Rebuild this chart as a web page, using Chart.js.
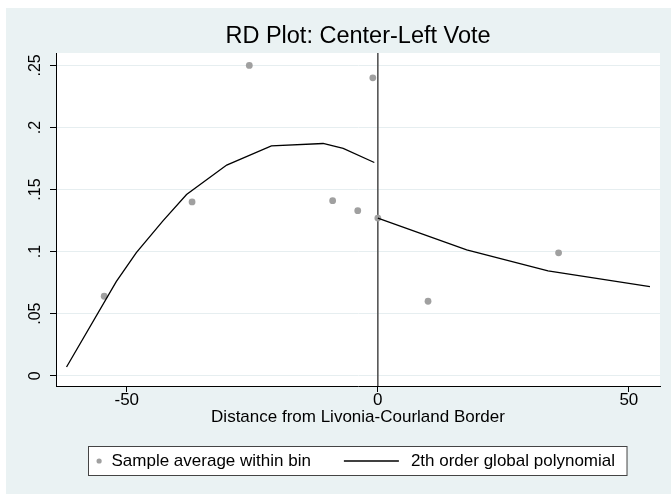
<!DOCTYPE html>
<html>
<head>
<meta charset="utf-8">
<script src="https://cdn.jsdelivr.net/npm/chart.js@4.4.1/dist/chart.umd.min.js"></script>
<style>
  html, body { margin: 0; padding: 0; background: #fff; }
  #wrap { width: 671px; height: 494px; }
</style>
</head>
<body>
<div id="wrap"><canvas id="rdChart" width="671" height="494"></canvas></div>
<script>
// ==========================================
// 1. Data
// ==========================================
const binX = [-54.5, -37, -25.6, -9, -4, -1, 0, 10, 36];
const binY = [0.064, 0.14, 0.25, 0.141, 0.133, 0.24, 0.127, 0.06, 0.099];

// polynomial fit, one piece on each side of the border
const polyLeftX = [-62, -52.1, -48.1, -42.8, -38.1, -30.1, -21.2, -10.9, -6.9, -0.7];
const polyLeftY = [0.007, 0.0758, 0.0992, 0.1248, 0.146, 0.1697, 0.1852, 0.1871, 0.1831, 0.1718];
const polyRightX = [0, 17.7, 33.9, 54.2];
const polyRightY = [0.127, 0.1014, 0.0844, 0.0718];

const cutoff = 0;
const xTicks = [-50, 0, 50];
const xTickLabels = ['-50', '0', '50'];
const yTicks = [0, 0.05, 0.1, 0.15, 0.2, 0.25];
const yTickLabels = ['0', '.05', '.1', '.15', '.2', '.25'];
const xRange = [-64.1, 56.2];
const yRange = [-0.0083, 0.26];

const FONT = '"Liberation Sans", Arial, Helvetica, sans-serif';
const BG = 'rgb(234,242,243)';

const toPoints = (xs, ys) => xs.map((x, i) => ({ x: x, y: ys[i] }));

// ==========================================
// 2. Plugins (background + Stata style legend box)
// ==========================================
const stataBackground = {
    id: 'stataBackground',
    beforeDraw(chart) {
        const { ctx, width, height, chartArea } = chart;
        ctx.save();
        ctx.fillStyle = '#fff';
        ctx.fillRect(0, 0, width, height);
        ctx.fillStyle = BG;
        ctx.fillRect(6, 8, width - 6, height - 8);
        ctx.fillStyle = '#fff';
        ctx.fillRect(chartArea.left, chartArea.top, chartArea.right - chartArea.left, chartArea.bottom - chartArea.top);
        ctx.restore();
    }
};

const legendBox = {
    id: 'legendBox',
    afterDraw(chart) {
        const ctx = chart.ctx;
        const area = chart.chartArea;
        const dsPts = chart.data.datasets[0];
        const dsLine = chart.data.datasets[1];

        ctx.save();
        ctx.font = '17px ' + FONT;
        const w1 = ctx.measureText(dsPts.label).width;
        const w2 = ctx.measureText(dsLine.label).width;
        const boxW = 10.6 + 12.4 + w1 + 33 + 55 + 12 + w2 + 12;
        const left = Math.round((area.left + area.right) / 2 - boxW / 2) - 0.5;
        const top = 446.5, h = 29;
        const midY = top + h / 2;

        ctx.fillStyle = '#fff';
        ctx.fillRect(left, top, boxW, h);
        ctx.strokeStyle = '#444';
        ctx.lineWidth = 1;
        ctx.strokeRect(left, top, boxW, h);

        // item 1: marker
        let x = left + 10.6;
        ctx.fillStyle = dsPts.backgroundColor;
        ctx.beginPath();
        ctx.arc(x, midY, 2.6, 0, Math.PI * 2);
        ctx.fill();
        x += 12.4;
        ctx.fillStyle = '#000';
        ctx.textBaseline = 'middle';
        ctx.textAlign = 'left';
        ctx.fillText(dsPts.label, x, midY);
        x += w1 + 33;

        // item 2: line
        ctx.strokeStyle = dsLine.borderColor;
        ctx.lineWidth = dsLine.borderWidth;
        ctx.beginPath();
        ctx.moveTo(x, midY);
        ctx.lineTo(x + 55, midY);
        ctx.stroke();
        x += 55 + 12;
        ctx.fillText(dsLine.label, x, midY);
        ctx.restore();
    }
};

// ==========================================
// 3. Chart
// ==========================================
const ctx = document.getElementById('rdChart');
new Chart(ctx, {
    type: 'scatter',
    data: {
        datasets: [
            {
                label: 'Sample average within bin',
                data: toPoints(binX, binY),
                backgroundColor: 'rgb(160,160,160)',
                borderWidth: 0,
                pointRadius: 3.4,
                order: 2
            },
            {
                label: '2th order global polynomial',
                data: toPoints(polyLeftX, polyLeftY),
                showLine: true,
                borderColor: '#000',
                borderWidth: 1.3,
                pointRadius: 0,
                tension: 0,
                order: 1
            },
            {
                label: 'right piece',
                data: toPoints(polyRightX, polyRightY),
                showLine: true,
                borderColor: '#000',
                borderWidth: 1.3,
                pointRadius: 0,
                tension: 0,
                order: 1
            },
            {
                label: 'cutoff',
                data: [{ x: cutoff, y: yRange[0] }, { x: cutoff, y: yRange[1] }],
                showLine: true,
                borderColor: 'rgb(85,85,85)',
                borderWidth: 1.6,
                pointRadius: 0,
                order: 3
            }
        ]
    },
    options: {
        responsive: false,
        animation: false,
        devicePixelRatio: 1,
        layout: { padding: { left: 6, right: 11, top: 8, bottom: 58 } },
        plugins: {
            legend: { display: false },
            tooltip: { enabled: false },
            title: {
                display: true,
                text: 'RD Plot: Center-Left Vote',
                fullSize: false,
                color: '#000',
                font: { family: FONT, size: 23.5, weight: 'normal' },
                padding: { top: 14.9, bottom: 1.9 }
            }
        },
        scales: {
            x: {
                type: 'linear',
                position: 'bottom',
                min: xRange[0],
                max: xRange[1],
                afterBuildTicks: (s) => { s.ticks = xTicks.map(v => ({ value: v })); },
                afterFit: (s) => { s.height = 50; },
                ticks: {
                    color: '#000',
                    font: { family: FONT, size: 17 },
                    padding: -2,
                    maxRotation: 0,
                    autoSkip: false,
                    callback: (v) => xTickLabels[xTicks.indexOf(v)]
                },
                grid: { drawOnChartArea: false, drawTicks: true, tickLength: 6, tickColor: '#000' },
                border: { color: '#000', width: 1 },
                title: {
                    display: true,
                    text: 'Distance from Livonia-Courland Border',
                    color: '#000',
                    font: { family: FONT, size: 17 },
                    padding: { top: 0, bottom: 8.3 }
                }
            },
            y: {
                type: 'linear',
                min: yRange[0],
                max: yRange[1],
                afterBuildTicks: (s) => { s.ticks = yTicks.map(v => ({ value: v })); },
                afterFit: (s) => { s.width = 50; },
                ticks: {
                    color: '#000',
                    font: { family: FONT, size: 16 },
                    padding: 3,
                    minRotation: 90,
                    maxRotation: 90,
                    crossAlign: 'center',
                    autoSkip: false,
                    callback: (v) => yTickLabels[yTicks.indexOf(v)]
                },
                grid: { color: 'rgb(230,238,240)', lineWidth: 1, tickLength: 6, tickColor: '#000' },
                border: { color: '#000', width: 1 }
            }
        }
    },
    plugins: [stataBackground, legendBox]
});
</script>
</body>
</html>
